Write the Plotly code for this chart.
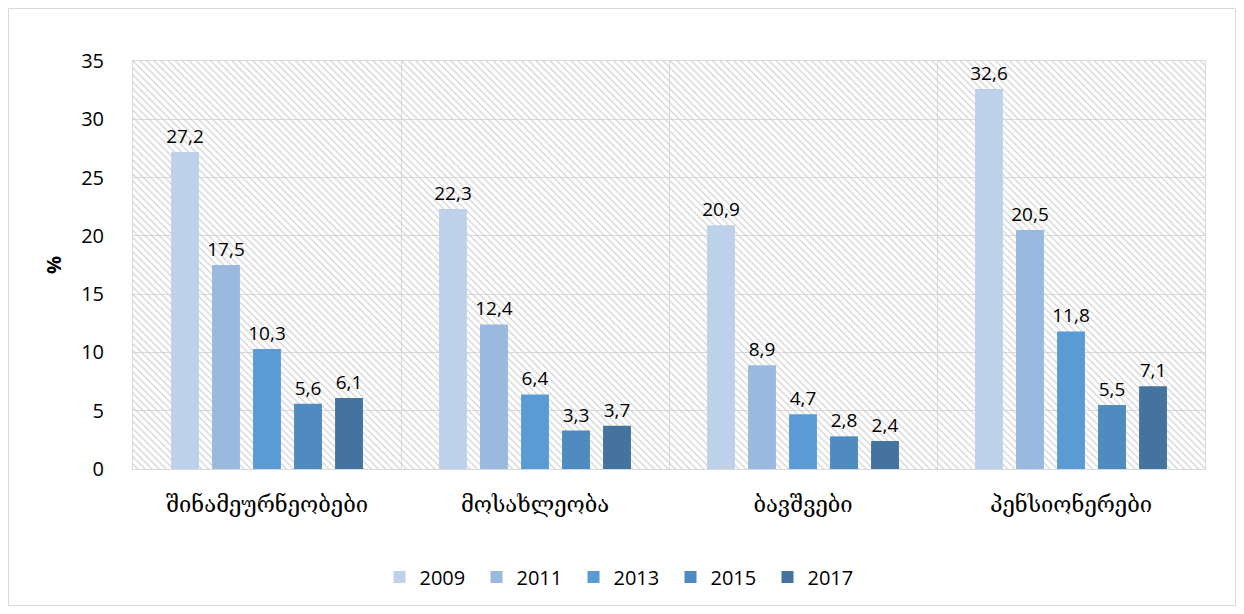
import plotly.graph_objects as go

categories = ["შინამეურნეობები", "მოსახლეობა", "ბავშვები", "პენსიონერები"]
years = ["2009", "2011", "2013", "2015", "2017"]
values = {
    "2009": [27.2, 22.3, 20.9, 32.6],
    "2011": [17.5, 12.4, 8.9, 20.5],
    "2013": [10.3, 6.4, 4.7, 11.8],
    "2015": [5.6, 3.3, 2.8, 5.5],
    "2017": [6.1, 3.7, 2.4, 7.1],
}
colors = ["#BDD1EA", "#9AB9DF", "#5B9BD5", "#4F8AC0", "#44739F"]
y_max = 35

W, H = 1228, 598
L, R, T, B = 125, 31, 53, 137
pw, ph = W - L - R, H - T - B

fig = go.Figure()

# hatched plot background (on base subplot, drawn below data)
fig.add_trace(go.Bar(
    x=[len(categories) / 2], y=[y_max], width=[len(categories)],
    xaxis="x", yaxis="y",
    marker=dict(color="rgba(0,0,0,0)", line=dict(width=0),
                pattern=dict(shape="\\", size=5, solidity=0.22,
                             fgcolor="#CFCFCF", bgcolor="rgba(0,0,0,0)",
                             fillmode="replace")),
    showlegend=False, hoverinfo="skip",
))

for yr, c in zip(years, colors):
    fig.add_trace(go.Bar(
        name=yr, x=categories, y=values[yr], xaxis="x2", yaxis="y",
        marker=dict(color=c, line=dict(width=0)),
        texttemplate="%{y:.1f}", textposition="outside", constraintext="none",
        textangle=0,
        textfont=dict(family="Open Sans, Liberation Sans, sans-serif", size=19, color="#000000"),
        cliponaxis=False,
    ))

legend_center_px = 577 - 8  # vertical centre of legend in figure pixels

fig.update_layout(
    width=W, height=H,
    paper_bgcolor="white", plot_bgcolor="white",
    margin=dict(l=L, r=R, t=T, b=B, autoexpand=False),
    separators=",.",
    barmode="group", bargap=0.235, bargroupgap=0.32,
    font=dict(family="Open Sans, Liberation Sans, sans-serif", size=19, color="#000000"),
    xaxis=dict(range=[0, len(categories)], dtick=1, tick0=0, showgrid=True,
               gridcolor="#D9D9D9", gridwidth=1, showticklabels=False, ticks="",
               zeroline=False, showline=True, mirror=True, linecolor="#D9D9D9",
               fixedrange=True),
    xaxis2=dict(overlaying="x", anchor="y", side="bottom", showgrid=False,
                type="category", range=[-0.5, len(categories) - 0.5],
                tickfont=dict(family="DejaVu Serif, DejaVu Sans, serif", size=22, color="#000000"),
                ticks="", ticklabelstandoff=20, zeroline=False, showline=False),
    yaxis=dict(range=[0, y_max], dtick=5, showgrid=True, gridcolor="#D9D9D9",
               gridwidth=1, zeroline=False, showline=True, mirror=True,
               linecolor="#D9D9D9", ticks="", ticklabelstandoff=24,
               tickfont=dict(size=20),
               title=dict(text="<b>%</b>", font=dict(size=20), standoff=14)),
    legend=dict(orientation="h", xref="container", x=0.5, xanchor="center",
                y=-(legend_center_px - T - ph) / ph, yanchor="middle",
                font=dict(size=20), entrywidth=52, entrywidthmode="pixels",
                itemwidth=30, traceorder="normal"),
    shapes=[dict(type="rect", xref="paper", yref="paper",
                 x0=(0.5 - L) / pw, x1=(W - 0.5 - L) / pw,
                 y0=-(H - 0.5 - T - ph) / ph, y1=(T + ph - 0.5) / ph,
                 line=dict(color="#D9D9D9", width=1), fillcolor="rgba(0,0,0,0)",
                 layer="below")],
)

fig.write_html("out.html")
